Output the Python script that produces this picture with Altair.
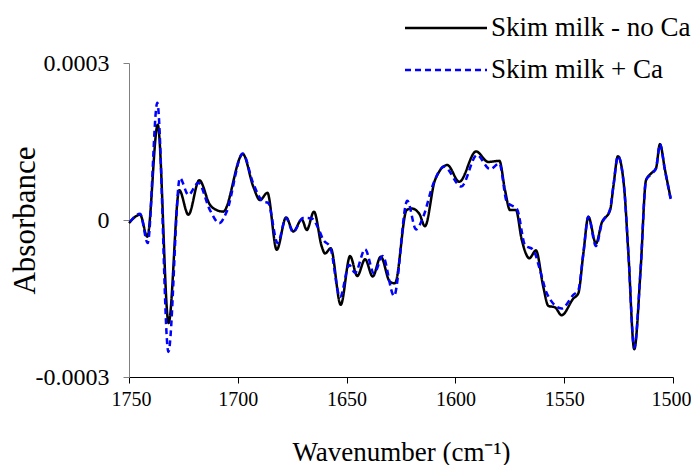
import altair as alt
import pandas as pd

# Series: Skim milk - no Ca (black, solid); absorbance in units of 1e-4
WN_NO_CA = [1750, 1744.9, 1741.6, 1736.8, 1731.8, 1726.9, 1722.7, 1717.7, 1712.8, 1709.7,
            1706.7, 1697.7, 1692.9, 1689.8, 1686.4, 1682.1, 1677.8, 1674.5, 1670.6, 1668.3,
            1665.0, 1661.4, 1659.9, 1657.3, 1652.7, 1648.4, 1645.1, 1641.5, 1638.0, 1634.3,
            1630.1, 1627.8, 1622.4, 1620.1, 1616.6, 1614.0, 1609.4, 1603.7, 1598.2, 1590.5,
            1584.9, 1579.8, 1577.2, 1574.9, 1572.2, 1569.5, 1566.0, 1563.0, 1559.6, 1557.3,
            1554.2, 1551.2, 1545.8, 1543.5, 1541.2, 1538.9, 1535.4, 1532.8, 1528.9, 1527.4,
            1525.3, 1522.5, 1520.5, 1517.8, 1514.9, 1512.4, 1509.8, 1507.8, 1506.0, 1503.7,
            1501.1]
ABS_NO_CA = [-0.06, 0.10, -0.32, 1.82, -1.97, 0.57, 0.10, 0.76, 0.29, 0.19,
             0.16, 1.26, 0.64, 0.38, 0.52, -0.57, 0.05, -0.22, 0.01, -0.19,
             0.16, -0.51, -0.64, -0.54, -1.62, -0.69, -1.07, -0.75, -1.08, -0.70,
             -1.18, -1.21, 0.19, 0.22, 0.12, -0.12, 0.76, 1.05, 0.73, 1.31,
             1.11, 1.13, 0.57, 0.19, 0.19, -0.38, -0.73, -0.58, -1.28, -1.64,
             -1.67, -1.82, -1.50, -1.40, -0.64, 0.06, -0.45, -0.06, 0.19, 0.64,
             1.22, 0.64, -0.64, -2.47, -0.96, 0.76, 0.90, 0.99, 1.45, 0.96,
             0.42]

# Series: Skim milk + Ca (blue, dashed); absorbance in units of 1e-4
WN_CA = [1750, 1744.9, 1741.4, 1737.0, 1731.9, 1726.6, 1722.7, 1718.2, 1712.8, 1708.5,
         1705.1, 1697.7, 1693.0, 1688.3, 1686.1, 1681.7, 1677.8, 1674.6, 1670.0, 1666.0,
         1663.0, 1660.7, 1657.6, 1653.0, 1648.8, 1646.1, 1641.5, 1637.4, 1633.4, 1628.2,
         1622.1, 1618.1, 1614.8, 1610.1, 1605.2, 1597.3, 1590.1, 1584.1, 1579.8, 1576.4,
         1571.6, 1568.0, 1564.2, 1561.1, 1558.0, 1551.2, 1545.8, 1543.5, 1541.2, 1538.9,
         1535.4, 1532.8, 1528.9, 1527.4, 1525.3, 1522.5, 1520.5, 1517.8, 1514.9, 1512.4,
         1509.8, 1507.8, 1506.0, 1503.7, 1501.1]
ABS_CA = [-0.06, 0.12, -0.44, 2.24, -2.52, 0.80, 0.48, 0.71, 0.19, -0.06,
          0.16, 1.27, 0.71, 0.35, 0.33, -0.44, 0.04, -0.23, 0.04, 0.03,
          -0.16, -0.38, -0.51, -1.47, -0.86, -1.01, -0.56, -1.02, -0.69, -1.45,
          0.37, -0.18, 0.06, 0.70, 1.02, 0.64, 1.24, 0.97, 1.08, 0.35,
          0.20, -0.48, -0.57, -0.96, -1.40, -1.69, -1.43, -1.34, -0.64, 0.06,
          -0.50, -0.08, 0.21, 0.65, 1.22, 0.64, -0.64, -2.44, -0.95, 0.76,
          0.88, 0.99, 1.45, 0.95, 0.40]

SERIES = ["Skim milk - no Ca", "Skim milk + Ca"]
COLORS = ["#000000", "#0000FF"]
DASHES = [[1, 0], [6, 4]]
X_TICKS = [1750, 1700, 1650, 1600, 1550, 1500]
Y_TICKS = [-0.0003, 0, 0.0003]
Y_TICK_LABELS = ["-0.0003", "0", "0.0003"]

rows = []
for w, a in zip(WN_NO_CA, ABS_NO_CA):
    rows.append({"wn": w, "abs": a * 1e-4, "series": SERIES[0], "order": 0})
for w, a in zip(WN_CA, ABS_CA):
    rows.append({"wn": w, "abs": a * 1e-4, "series": SERIES[1], "order": 1})
df = pd.DataFrame(rows)

FONT = "Liberation Serif"

label_expr = " : ".join(
    f"abs(datum.value - ({v})) < 1e-9 ? '{l}'" for v, l in zip(Y_TICKS, Y_TICK_LABELS)
) + " : ''"

x_enc = alt.X(
    "wn:Q",
    scale=alt.Scale(domain=[1500, 1750], reverse=True, nice=False, zero=False),
    axis=alt.Axis(
        values=X_TICKS, title="Wavenumber (cm⁻¹)", grid=False, format="d",
        labelFont=FONT, labelFontSize=20, labelColor="black", labelPadding=6,
        labelFlush=True, labelFlushOffset=18, labelOverlap=False,
        tickSize=6, tickColor="black", domainColor="black",
        titleFont=FONT, titleFontSize=27, titleFontWeight="normal", titleColor="black",
        titleY=75, titleBaseline="middle",
    ),
)
y_enc = alt.Y(
    "abs:Q",
    scale=alt.Scale(domain=[-0.0003, 0.0003], nice=False, zero=False),
    axis=alt.Axis(
        values=Y_TICKS, labelExpr=label_expr, title="Absorbance", grid=False,
        labelFont=FONT, labelFontSize=24, labelColor="black", labelPadding=14,
        labelFlush=False, labelOverlap=False,
        tickSize=6, tickColor="#808080", domainColor="#808080",
        titleFont=FONT, titleFontSize=31, titleFontWeight="normal", titleColor="black",
        titleX=-104, titleY=157, titleAngle=270, titleBaseline="middle", titleAlign="center",
    ),
)
color_enc = alt.Color("series:N", scale=alt.Scale(domain=SERIES, range=COLORS), legend=None)
dash_enc = alt.StrokeDash("series:N", scale=alt.Scale(domain=SERIES, range=DASHES), legend=None)

base = alt.Chart(df).mark_line(strokeWidth=2.5, interpolate="monotone").encode(
    x=x_enc, y=y_enc, color=color_enc, strokeDash=dash_enc, order="wn:Q"
)
black = base.transform_filter(alt.datum.order == 0)
blue = base.transform_filter(alt.datum.order == 1)

# Manual legend (positions in pixels relative to the plot area)
leg_layers = []
for i, name in enumerate(SERIES):
    ypix = -35 + 42 * i
    ldf = pd.DataFrame({"series": [name]})
    rule = alt.Chart(ldf).mark_rule(
        color=COLORS[i], strokeWidth=2.5, strokeDash=DASHES[i]
    ).encode(x=alt.value(276), x2=alt.value(358), y=alt.value(ypix))
    txt = alt.Chart(ldf).mark_text(
        align="left", baseline="middle", font=FONT, fontSize=27, color="black"
    ).encode(x=alt.value(362), y=alt.value(ypix), text="series:N")
    leg_layers += [rule, txt]

chart = alt.layer(black, blue, *leg_layers).properties(
    width=544, height=314,
    autosize=alt.AutoSizeParams(type="none"),
    padding={"left": 121, "top": 55, "right": 18, "bottom": 88},
    background="white",
).configure_view(stroke=None)

chart.save("out.html", embed_options={"renderer": "svg", "actions": False})
